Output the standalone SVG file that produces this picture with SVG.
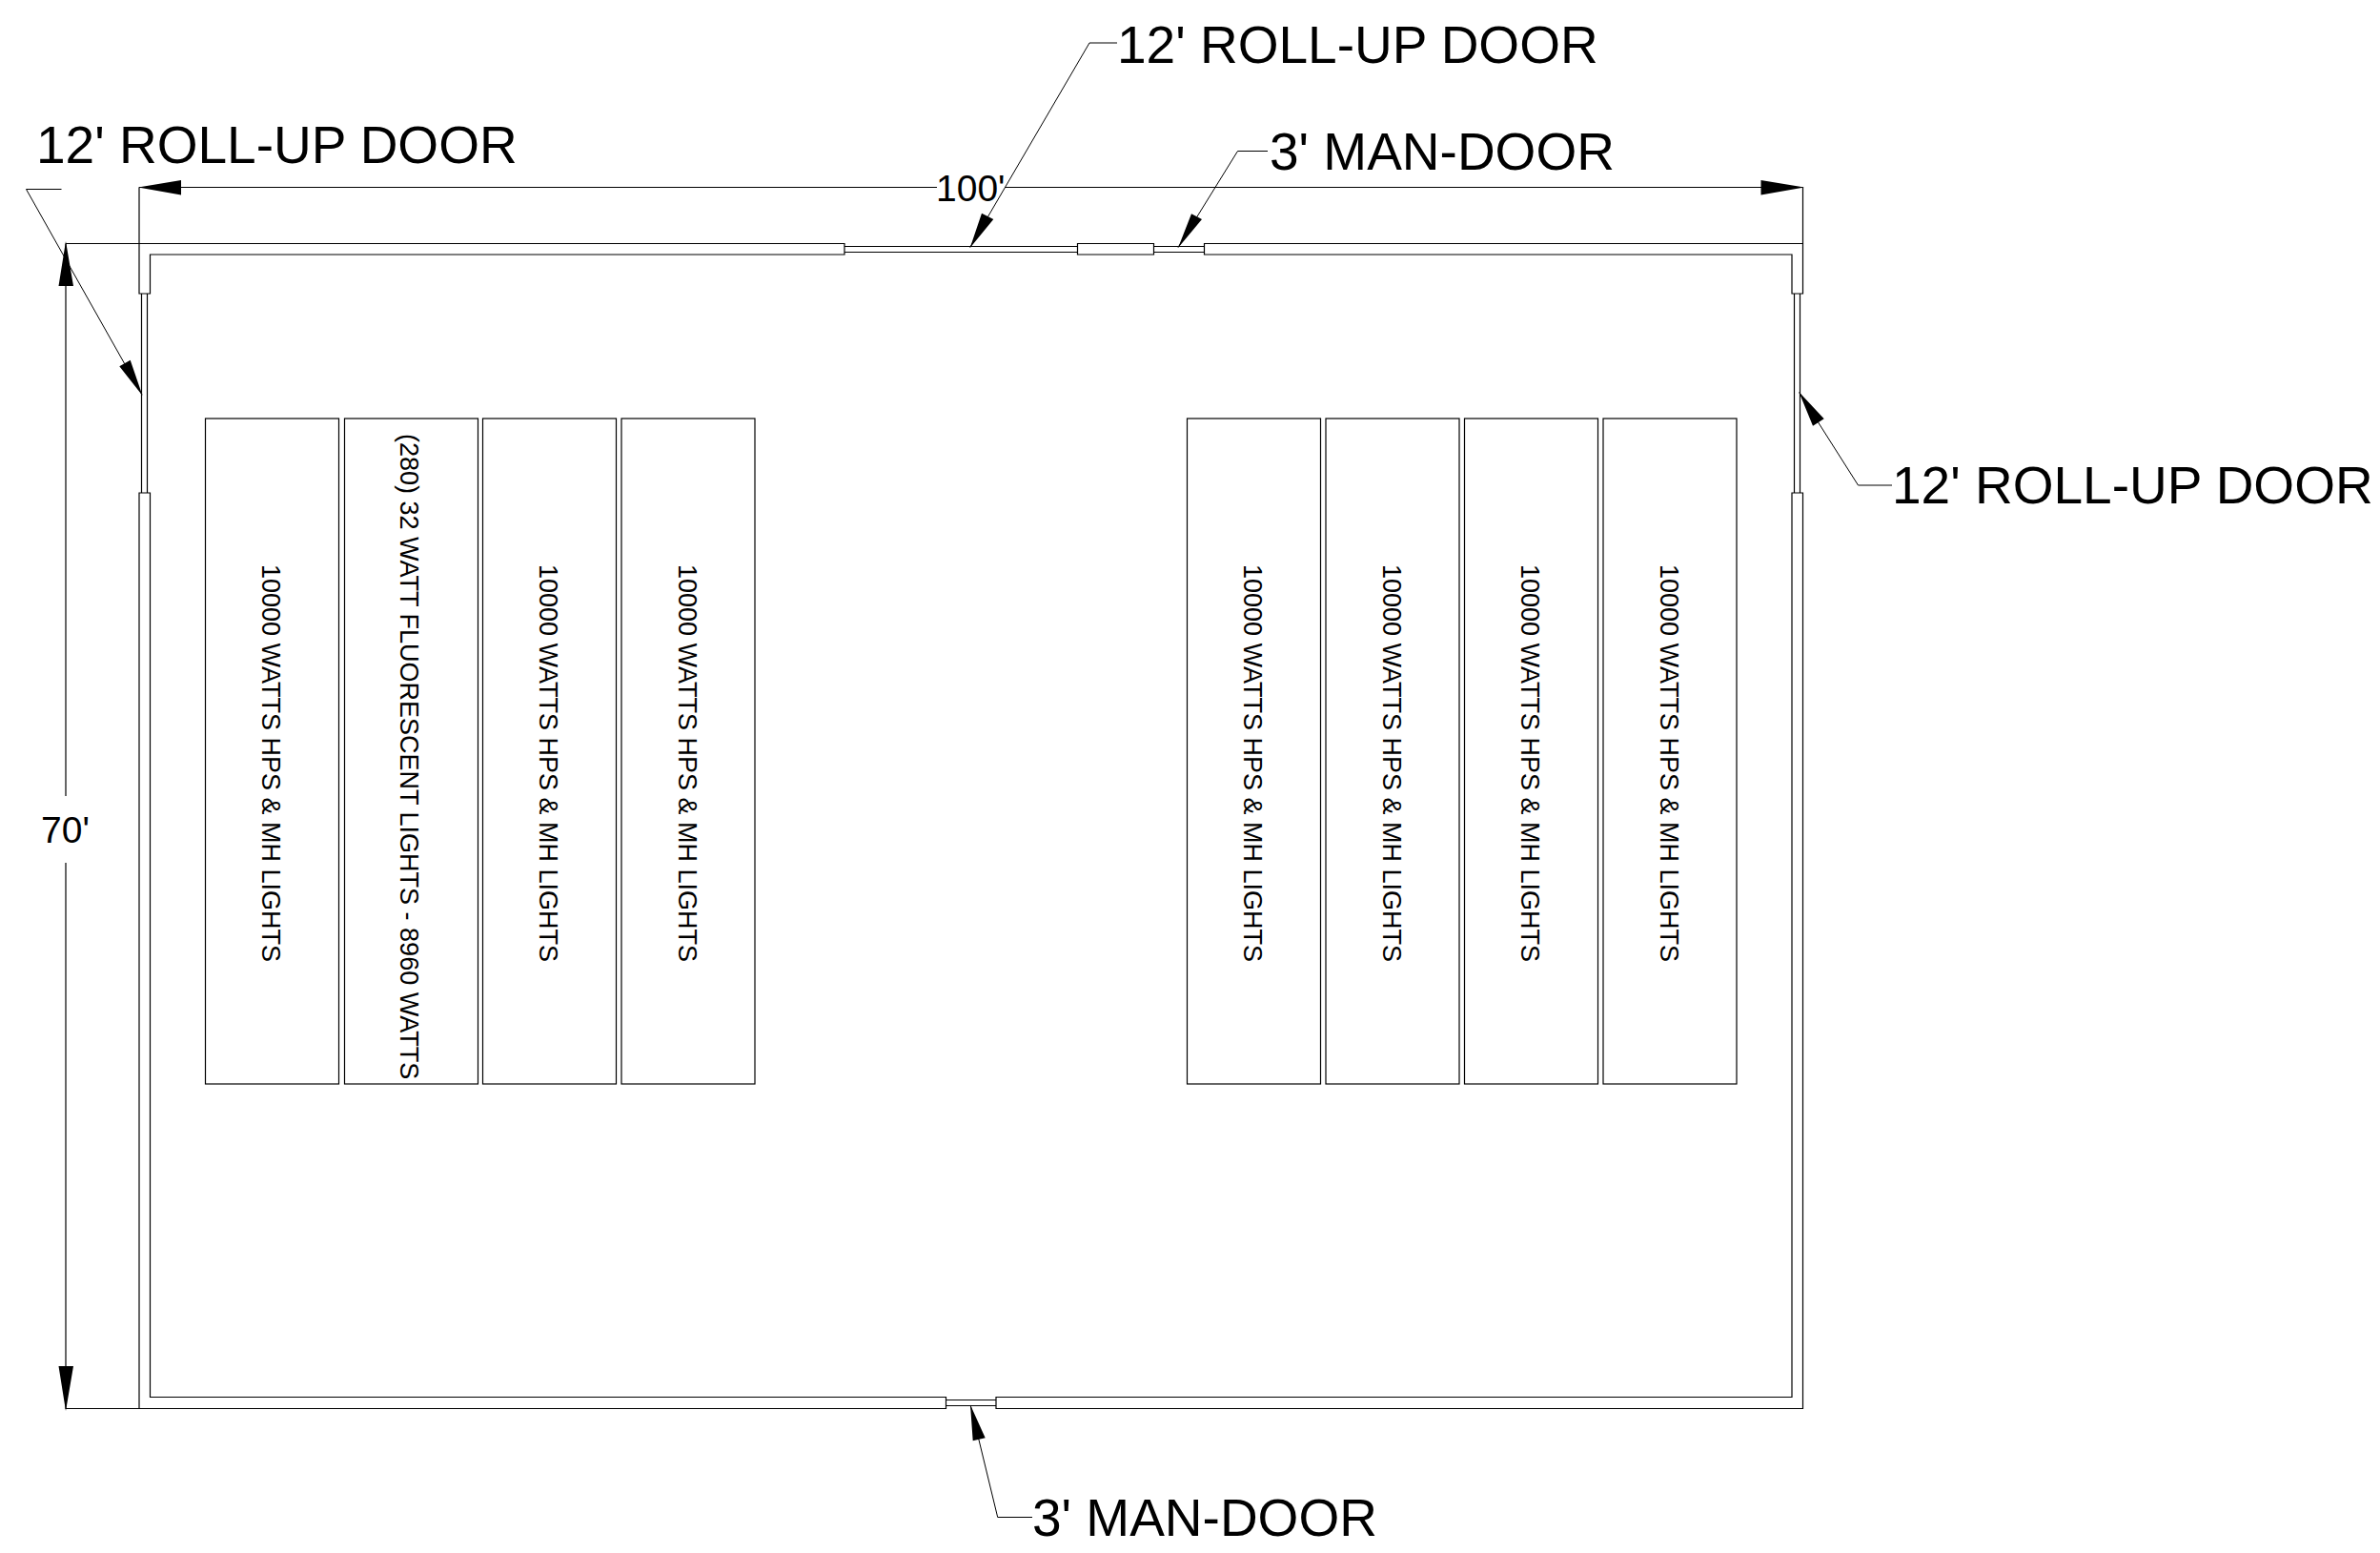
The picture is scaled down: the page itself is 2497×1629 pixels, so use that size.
<svg xmlns="http://www.w3.org/2000/svg" width="2497" height="1629" viewBox="0 0 2497 1629">
<style>
.w{fill:none;stroke:#000;stroke-width:1.2}
.l{fill:none;stroke:#000;stroke-width:1}
.a{fill:#000;stroke:none}
text{font-family:"Liberation Sans",Arial,sans-serif;fill:#000}
.big{font-size:55px}
.dim{font-size:39px}
.rack{font-size:27px}
</style>
<rect width="2497" height="1629" fill="#fff"/>
<g id="walls">
<path class="w" d="M146 308V255.5H886V267H157.5V308H146ZM146 517V1477.5H992.5V1465.5H157.5V517H146ZM1045 1465.5V1477.5H1891.5V517H1880V1465.5H1045ZM1891.5 308V255.5H1263.5V267H1880V308H1891.5ZM1130.5 255.5H1210.5V267H1130.5Z"/>
</g>
<g id="doors">
<path class="w" d="M148.5 308V517M154.5 308V517M1882.5 308V517M1888.5 308V517M886 258.5H1130.5M886 264.5H1130.5M1210.5 258.5H1263.5M1210.5 264.5H1263.5M992.5 1468.5H1045M992.5 1474.5H1045"/>
</g>
<g id="rack-1"><rect class="w" x="215.5" y="439" width="140" height="698"/><text class="rack" transform="translate(275,592) rotate(90)">10000 WATTS HPS &amp; MH LIGHTS</text></g>
<g id="rack-2"><rect class="w" x="361.5" y="439" width="140" height="698"/><text class="rack" transform="translate(420,455) rotate(90)">(280) 32 WATT FLUORESCENT LIGHTS - 8960 WATTS</text></g>
<g id="rack-3"><rect class="w" x="506.5" y="439" width="140" height="698"/><text class="rack" transform="translate(566,592) rotate(90)">10000 WATTS HPS &amp; MH LIGHTS</text></g>
<g id="rack-4"><rect class="w" x="652" y="439" width="140" height="698"/><text class="rack" transform="translate(711.5,592) rotate(90)">10000 WATTS HPS &amp; MH LIGHTS</text></g>
<g id="rack-5"><rect class="w" x="1245.5" y="439" width="140" height="698"/><text class="rack" transform="translate(1305,592) rotate(90)">10000 WATTS HPS &amp; MH LIGHTS</text></g>
<g id="rack-6"><rect class="w" x="1391" y="439" width="140" height="698"/><text class="rack" transform="translate(1450.5,592) rotate(90)">10000 WATTS HPS &amp; MH LIGHTS</text></g>
<g id="rack-7"><rect class="w" x="1536.5" y="439" width="140" height="698"/><text class="rack" transform="translate(1596,592) rotate(90)">10000 WATTS HPS &amp; MH LIGHTS</text></g>
<g id="rack-8"><rect class="w" x="1682" y="439" width="140" height="698"/><text class="rack" transform="translate(1741.5,592) rotate(90)">10000 WATTS HPS &amp; MH LIGHTS</text></g>
<g id="connectors">
<path class="w" d="M146 196.5V255.5M1891.5 196.5V255.5M69 255.5H146M69 1477.5H146M146 196.5H983M1054 196.5H1891.5M69 255.5V835M69 905V1478"/>
<path class="a" d="M145 196.5L190 189V204.5ZM1893 196.5L1847.5 189V204.5ZM69 253L61.5 300H77ZM69 1480L61.5 1433H77Z"/>
<path class="l" d="M27.5 198.5H64.5M27.5 198.5L149 414M1172 45H1143L1017.7 259.5M1330 158.5H1298.5L1236 259.5M1985 509H1949.5L1887.7 411.7M1083 1591.5H1046.7L1018.3 1474.5"/>
<path class="a" d="M149.5 415L125.3 384.3L136.7 377.7ZM1017.7 260L1030 223.7L1042.3 230ZM1236 260L1250 224.3L1261 230ZM1887.3 411L1913.7 439.3L1902 446.7ZM1018 1473.5L1033.7 1508.3L1020.7 1511.3Z"/>
</g>
<g id="labels">
<text class="big" x="38" y="171">12' ROLL-UP DOOR</text>
<text class="big" x="1172" y="66">12' ROLL-UP DOOR</text>
<text class="big" x="1332" y="178">3' MAN-DOOR</text>
<text class="big" x="1985" y="528">12' ROLL-UP DOOR</text>
<text class="big" x="1083" y="1611">3' MAN-DOOR</text>
<text class="dim" x="982" y="211">100'</text>
<text class="dim" x="43" y="884">70'</text>
</g>
</svg>
